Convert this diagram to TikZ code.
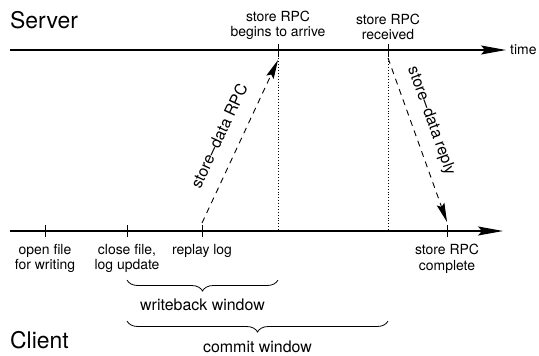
\documentclass[tikz,border=0pt]{standalone}
\usepackage{fontspec}
\setmainfont{TeX Gyre Heros}
\usetikzlibrary{arrows.meta,decorations.pathreplacing}
\begin{document}
\begin{tikzpicture}[x=1bp,y=-1bp,
  axis/.style={line width=1.1bp,-{Stealth[length=25bp,width=9bp,inset=4bp]}},
  tick/.style={line width=0.8bp},
  msg/.style={line width=0.9bp,dash pattern=on 6bp off 5bp,-{Stealth[length=19bp,width=8bp,inset=3bp]}},
  guide/.style={line width=0.9bp,dotted},
  lbl/.style={font=\fontsize{14}{15.5}\selectfont,align=center,inner sep=0pt},
  slant/.style={font=\fontsize{16}{18}\selectfont,inner sep=0pt},
  win/.style={font=\fontsize{16}{18}\selectfont,inner sep=0pt},
  big/.style={font=\fontsize{23}{25}\selectfont,inner sep=0pt},
  brc/.style={decorate,decoration={brace,mirror,amplitude=11bp},line width=0.8bp}]
\useasboundingbox (0,0) rectangle (539,355);
% axes
\coordinate (s0) at (10,50); \coordinate (s1) at (506,50);
\coordinate (c0) at (10,231); \coordinate (c1) at (503,231);
\draw[axis] (s0) -- (s1);
\draw[axis] (c0) -- (c1);
\node[lbl,anchor=west] (time) at (510,50) {time};
\node[big,anchor=west] (server) at (10,20) {Server};
\node[big,anchor=west] (client) at (10,340) {Client};
% server ticks
\coordinate (sa) at (278,50); \coordinate (sb) at (388,50);
\draw[tick] ([yshift=-6bp]sa) -- ([yshift=6bp]sa);
\draw[tick] ([yshift=-6bp]sb) -- ([yshift=6bp]sb);
\node[lbl,anchor=south] (la) at (278,40) {store RPC\\begins to arrive};
\node[lbl,anchor=south] (lb) at (388,40) {store RPC\\received};
% client ticks
\coordinate (ca) at (45,231); \coordinate (cb) at (127,231);
\coordinate (cc) at (202,231); \coordinate (cd) at (447,231);
\foreach \t in {ca,cb,cc,cd} \draw[tick] ([yshift=-6bp]\t) -- ([yshift=6bp]\t);
\node[lbl,anchor=north] (lca) at (45,244) {open file\\for writing};
\node[lbl,anchor=north] (lcb) at (127,244) {close file,\\log update};
\node[lbl,anchor=north] (lcc) at (202,244) {replay log};
\node[lbl,anchor=north] (lcd) at (447,244) {store RPC\\complete};
% dotted guides
\coordinate (ga) at (278,231); \coordinate (gb) at (388,231);
\draw[guide] ([yshift=6bp]sa) -- (ga);
\draw[guide] ([yshift=6bp]sb) -- (gb);
% messages
\coordinate (rpcS) at (202,223); \coordinate (rpcE) at (278,60);
\coordinate (repS) at (388,58); \coordinate (repE) at (447,222);
\draw[msg] (rpcS) -- (rpcE);
\draw[msg] (repS) -- (repE);
\node[slant,rotate=65] (rpcl) at (219,136) {store--data RPC};
\node[slant,rotate=-70.2] (repl) at (431,121) {store--data reply};
% braces
\draw[brc] (127,280) -- (278,280);
\node[win] (wb) at (202.5,305) {writeback window};
\draw[brc] (127,321) -- (388,321);
\node[win] (cw) at (257.5,347) {commit window};
\end{tikzpicture}
\end{document}
